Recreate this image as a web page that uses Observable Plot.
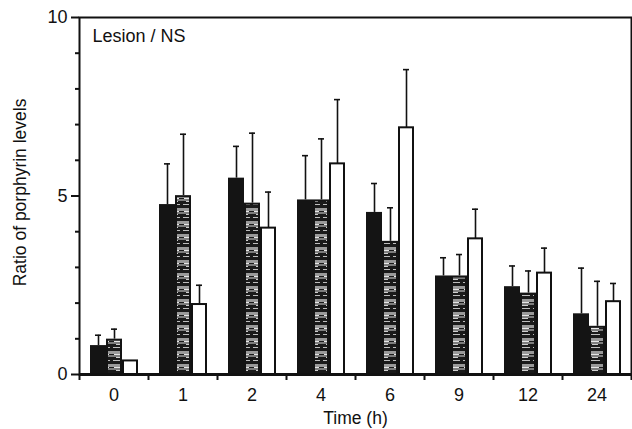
<!DOCTYPE html>
<html>
<head>
<meta charset="utf-8">
<script src="https://cdn.jsdelivr.net/npm/d3@7"></script>
<script src="https://cdn.jsdelivr.net/npm/@observablehq/plot@0.6"></script>
<style>
  html, body { margin: 0; padding: 0; background: #fff; }
  svg { font-family: "Liberation Sans", Arial, sans-serif; }
</style>
</head>
<body>
<div id="chart"></div>
<script>
// ---- data ----
const times = ["0", "1", "2", "4", "6", "9", "12", "24"];
const seriesNames = ["black", "striped", "white"];
const blackMean   = [0.81, 4.76, 5.50, 4.89, 4.54, 2.76, 2.46, 1.70];
const blackErr    = [0.29, 1.14, 0.89, 1.24, 0.81, 0.51, 0.58, 1.28];
const stripedMean = [0.99, 5.01, 4.80, 4.89, 3.73, 2.76, 2.28, 1.35];
const stripedErr  = [0.28, 1.72, 1.96, 1.71, 0.94, 0.60, 0.62, 1.26];
const whiteMean   = [0.38, 1.96, 4.10, 5.90, 6.91, 3.80, 2.84, 2.04];
const whiteErr    = [null, 0.54, 1.01, 1.80, 1.63, 0.83, 0.70, 0.51];
const yMajorTicks = [0, 5, 10];
const yMinorTicks = [1, 2, 3, 4, 6, 7, 8, 9];
const panelLabel = "Lesion / NS";
const yLabel = "Ratio of porphyrin levels";
const xLabel = "Time (h)";

const means = [blackMean, stripedMean, whiteMean];
const errs = [blackErr, stripedErr, whiteErr];
const rows = seriesNames.map((s, si) => times.map((t, ti) => ({
  time: t, series: s, mean: means[si][ti],
  top: errs[si][ti] == null ? null : means[si][ti] + errs[si][ti]
})));

// ---- layout ----
const W = 632, H = 429;
const mL = 79, mR = 1, mT = 17, mB = 55;
const STEP = (W - mL - mR) / times.length;
const BAR_W = 16, OFF0 = 11, CAP = 3;
const inL = i => OFF0 + BAR_W * i;
const inR = i => STEP - OFF0 - BAR_W * (i + 1);
const ctr = i => OFF0 + BAR_W * (i + 0.5);

const marks = [];
seriesNames.forEach((s, i) => {
  const data = rows[i];
  const withErr = data.filter(d => d.top != null);
  marks.push(Plot.ruleX(withErr, {x: "time", y1: "mean", y2: "top", dx: ctr(i) - STEP / 2, stroke: "#111", strokeWidth: 1.6}));
  marks.push(Plot.tickY(withErr, {x: "time", y: "top", insetLeft: ctr(i) - CAP, insetRight: STEP - ctr(i) - CAP, stroke: "#111", strokeWidth: 1.6}));
  if (s === "white") {
    marks.push(Plot.barY(data, {x: "time", y: "mean", insetLeft: inL(i) + 1, insetRight: inR(i) + 1, fill: "#fff", stroke: "#111", strokeWidth: 2}));
  } else {
    marks.push(Plot.barY(data, {x: "time", y: "mean", insetLeft: inL(i), insetRight: inR(i), fill: "#141414"}));
    if (s === "striped") {
      marks.push(Plot.barY(data, {x: "time", y: "mean", insetLeft: inL(i) + 2, insetRight: inR(i) + 2, insetTop: 2, fill: "url(#stripes)"}));
    }
  }
});

const chart = Plot.plot({
  width: W, height: H,
  marginLeft: mL, marginRight: mR, marginTop: mT, marginBottom: mB,
  style: {fontSize: "18px", fontFamily: "'Liberation Sans', Arial, sans-serif", color: "#111"},
  x: {type: "band", domain: times, padding: 0, axis: null},
  y: {domain: [0, 10], axis: null},
  marks: [
    ...marks,
    Plot.frame({stroke: "#111", strokeWidth: 2}),
    Plot.ruleY([0], {stroke: "#111", strokeWidth: 3}),
    Plot.axisY(yMajorTicks, {tickSize: 8, tickPadding: 4, strokeWidth: 2, label: null, fontSize: 18}),
    Plot.axisY(yMinorTicks, {tickSize: 4, tickFormat: () => "", strokeWidth: 2, label: null}),
    Plot.axisX(times, {tickSize: 0, tickPadding: 14, label: null, fontSize: 18}),
    Plot.axisX(times, {tickSize: 6, tickFormat: () => "", dx: -STEP / 2, strokeWidth: 2, label: null}),
    Plot.axisX([times[times.length - 1]], {tickSize: 6, tickFormat: () => "", dx: STEP / 2, strokeWidth: 2, label: null}),
    Plot.text([panelLabel], {frameAnchor: "top-left", text: d => d, dx: 13, dy: 12, textAnchor: "start", lineAnchor: "top", fontSize: 18}),
    Plot.text([yLabel], {frameAnchor: "left", text: d => d, y: 5.1, dx: -59, rotate: -90, textAnchor: "middle", lineAnchor: "middle", fontSize: 17.5}),
    Plot.text([xLabel], {frameAnchor: "bottom", text: d => d, dy: 44, lineAnchor: "middle", fontSize: 17.5})
  ]
});

// pattern for the striped (textured) bars
const defs = d3.select(chart).insert("defs", ":first-child");
const pat = defs.append("pattern").attr("id", "stripes").attr("patternUnits", "userSpaceOnUse")
  .attr("width", 14).attr("height", 13);
pat.append("rect").attr("width", 14).attr("height", 13).attr("fill", "#1a1a1a");
pat.append("rect").attr("x", 0).attr("y", 0).attr("width", 14).attr("height", 3).attr("fill", "#9a9a9a");
pat.append("rect").attr("x", 2).attr("y", 3).attr("width", 9).attr("height", 1).attr("fill", "#e6e6e6");
pat.append("rect").attr("x", 0).attr("y", 4).attr("width", 14).attr("height", 2).attr("fill", "#7d7d7d");
pat.append("rect").attr("x", 4).attr("y", 6).attr("width", 6).attr("height", 1).attr("fill", "#d0d0d0");
pat.append("rect").attr("x", 1).attr("y", 9).attr("width", 11).attr("height", 1).attr("fill", "#bdbdbd");

document.getElementById("chart").appendChild(chart);
</script>
</body>
</html>
